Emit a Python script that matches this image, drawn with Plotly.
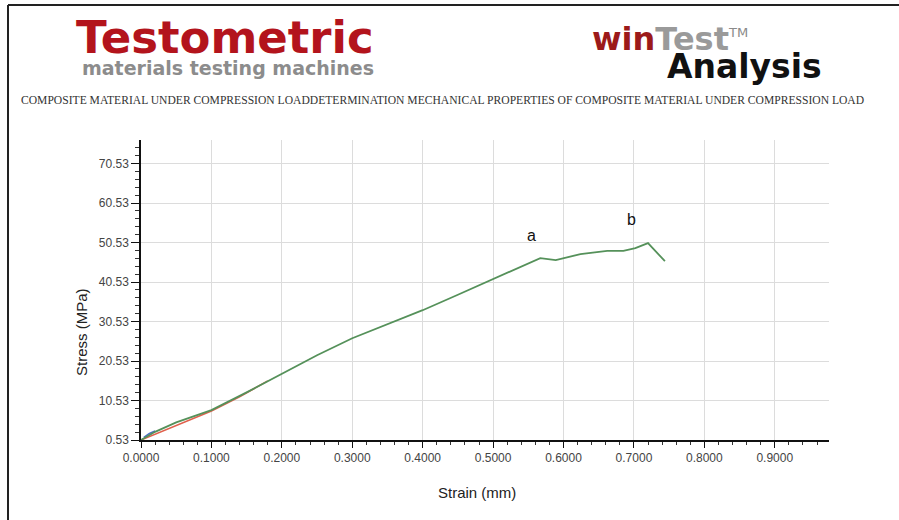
import plotly.graph_objects as go

# Stress-strain record of the composite specimen (main trace, green)
strain_main = [0.0, 0.02, 0.05, 0.10, 0.15, 0.20, 0.25, 0.30, 0.35, 0.40, 0.45, 0.50,
               0.567, 0.589, 0.624, 0.662, 0.685, 0.702, 0.720, 0.744]
stress_main = [0.53, 2.6, 5.0, 8.1, 12.6, 17.2, 22.0, 26.3, 29.8, 33.4, 37.3, 41.2,
               46.6, 46.1, 47.6, 48.4, 48.4, 49.1, 50.4, 45.8]

# Short overlapping traces near the origin
strain_red = [0.0, 0.03, 0.07, 0.10, 0.14, 0.18]
stress_red = [0.53, 2.8, 5.8, 7.9, 11.5, 15.5]
strain_blue = [0.004, 0.012, 0.02]
stress_blue = [1.2, 2.2, 2.8]

# Point labels
label_text = ["a", "b"]
label_strain = [0.554, 0.697]
label_stress = [52.2, 56.3]

y_tick_vals = [0.53, 10.53, 20.53, 30.53, 40.53, 50.53, 60.53, 70.53]
y_tick_text = ["0.53", "10.53", "20.53", "30.53", "40.53", "50.53", "60.53", "70.53"]
x_tick_vals = [0.0, 0.1, 0.2, 0.3, 0.4, 0.5, 0.6, 0.7, 0.8, 0.9]
x_tick_text = ["0.0000", "0.1000", "0.2000", "0.3000", "0.4000",
               "0.5000", "0.6000", "0.7000", "0.8000", "0.9000"]

TITLE = ("COMPOSITE MATERIAL UNDER COMPRESSION LOADDETERMINATION MECHANICAL "
         "PROPERTIES OF COMPOSITE MATERIAL UNDER COMPRESSION LOAD")

W, H = 899, 520
L, R, T, B = 141, 829, 140, 440


def px(x):
    return (x - L) / (R - L)


def py(y):
    return (B - y) / (B - T)


fig = go.Figure()
fig.add_trace(go.Scatter(x=strain_red, y=stress_red, mode="lines",
                         line=dict(color="#e0604c", width=1.6), hoverinfo="skip"))
fig.add_trace(go.Scatter(x=strain_blue, y=stress_blue, mode="lines",
                         line=dict(color="#4a6cc8", width=1.6), hoverinfo="skip"))
fig.add_trace(go.Scatter(x=strain_main, y=stress_main, mode="lines",
                         line=dict(color="#55915a", width=1.8), hoverinfo="skip"))

tick_font = dict(family="Liberation Sans", size=12, color="#444444")

fig.update_xaxes(range=[0, 0.977], tickvals=x_tick_vals, ticktext=x_tick_text,
                 showgrid=True, gridcolor="#dcdcdc", gridwidth=1, zeroline=False,
                 showline=True, linecolor="#111111", linewidth=1.5,
                 ticks="outside", ticklen=6, tickcolor="#111111", tickfont=tick_font,
                 minor=dict(dtick=0.02, ticks="outside", ticklen=3, tickcolor="#333333", showgrid=False))
fig.update_yaxes(range=[0.53, 76.5], tickvals=y_tick_vals, ticktext=y_tick_text,
                 showgrid=True, gridcolor="#dcdcdc", gridwidth=1, zeroline=False,
                 showline=True, linecolor="#111111", linewidth=1.5,
                 ticks="outside", ticklen=8, tickcolor="#111111", tickfont=tick_font,
                 minor=dict(tick0=0.53, dtick=2, ticks="outside", ticklen=4, tickcolor="#333333", showgrid=False))

ann = []
# header logos
ann.append(dict(x=px(225), y=py(37), text="<b>Testometric</b>",
                font=dict(family="DejaVu Sans", size=45, color="#b3141c")))
ann.append(dict(x=px(228), y=py(68), text="<b>materials testing machines</b>",
                font=dict(family="DejaVu Sans", size=19, color="#8c8c8c")))
ann.append(dict(x=px(670), y=py(39),
                text="<b><span style='color:#9c1a1a'>win</span><span style='color:#9a9a9a'>Test</span></b>"
                     "<sup><span style='color:#8a8a8a;font-size:13px'>TM</span></sup>",
                font=dict(family="DejaVu Sans", size=32, color="#9a9a9a")))
ann.append(dict(x=px(744), y=py(66), text="<b>Analysis</b>",
                font=dict(family="DejaVu Sans", size=33, color="#111111")))
# title line
ann.append(dict(x=px(442), y=py(100), text=TITLE,
                font=dict(family="Liberation Serif", size=11.6, color="#333333")))
# axis titles
ann.append(dict(x=px(477), y=py(492), text="Strain (mm)",
                font=dict(family="Liberation Sans", size=15, color="#222222")))
ann.append(dict(x=px(81), y=py(332), text="Stress (MPa)", textangle=-90,
                font=dict(family="Liberation Sans", size=15, color="#222222")))
for a in ann:
    a.update(xref="paper", yref="paper", xanchor="center", yanchor="middle", showarrow=False)

# point labels a / b
for t, sx, sy in zip(label_text, label_strain, label_stress):
    ann.append(dict(x=sx, y=sy, xref="x", yref="y", text=t, showarrow=False,
                    xanchor="center", yanchor="middle",
                    font=dict(family="Liberation Sans", size=16, color="#111111")))

shapes = [
    dict(type="line", xref="paper", yref="paper", x0=px(8), x1=px(8), y0=py(5), y1=py(H + 5),
         line=dict(color="#222222", width=2)),
    dict(type="line", xref="paper", yref="paper", x0=px(8), x1=px(W + 5), y0=py(5), y1=py(5),
         line=dict(color="#222222", width=2)),
]

fig.update_layout(width=W, height=H, margin=dict(l=L, r=W - R, t=T, b=H - B),
                  paper_bgcolor="white", plot_bgcolor="white", showlegend=False,
                  annotations=ann, shapes=shapes)

fig.write_html("out.html")
